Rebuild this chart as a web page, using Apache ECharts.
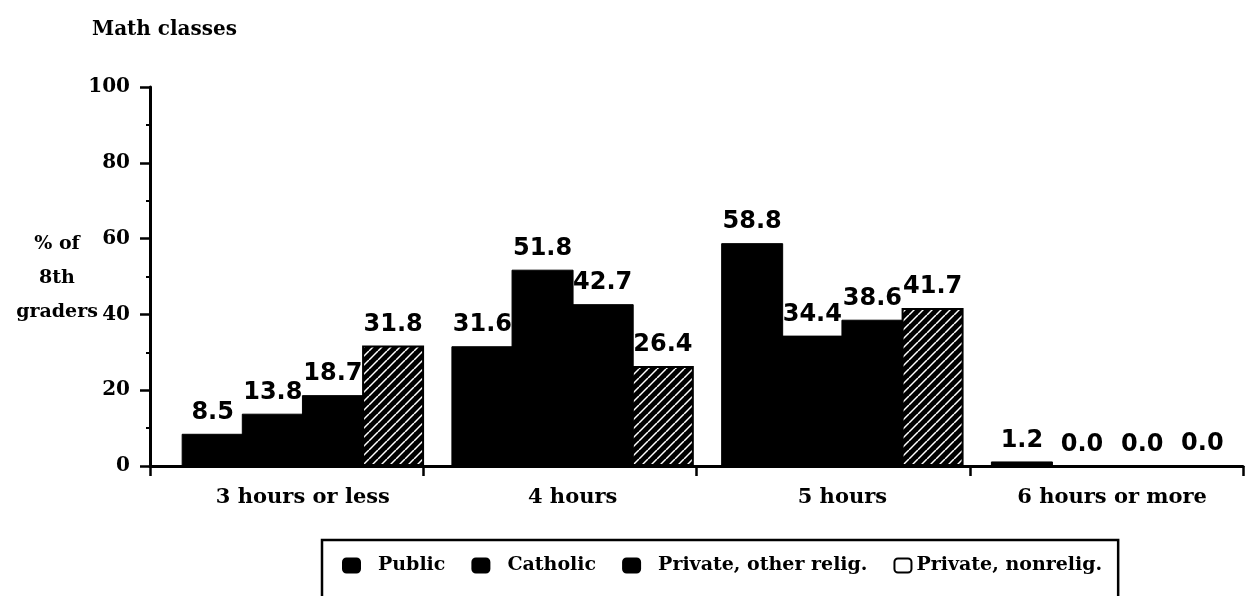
<!DOCTYPE html>
<html>
<head>
<meta charset="utf-8">
<script src="https://cdn.jsdelivr.net/npm/echarts@6/dist/echarts.min.js"></script>
<style>
  html, body { margin: 0; padding: 0; background: #fff; }
  #chart { width: 1247px; height: 596px; }
</style>
</head>
<body>
<div id="chart"></div>
<script>
// ---- data ----
const categories = ['3 hours or less', '4 hours', '5 hours', '6 hours or more'];
const seriesNames = ['Public', 'Catholic', 'Private, other relig.', 'Private, nonrelig.'];
const publicVals = [8.5, 31.6, 58.8, 1.2];
const catholicVals = [13.8, 51.8, 34.4, 0.0];
const otherReligVals = [18.7, 42.7, 38.6, 0.0];
const nonReligVals = [31.8, 26.4, 41.7, 0.0];
const yMin = 0, yMax = 100, yInterval = 20;

// ---- hatch pattern ----
function makeHatch() {
  const s = 9;
  const c = document.createElement('canvas');
  c.width = s; c.height = s;
  const ctx = c.getContext('2d');
  ctx.fillStyle = '#000';
  ctx.fillRect(0, 0, s, s);
  ctx.strokeStyle = '#fff';
  ctx.lineWidth = 1.5;
  for (let k = -1; k <= 1; k++) {
    ctx.beginPath();
    ctx.moveTo(k * s, s);
    ctx.lineTo(k * s + s, 0);
    ctx.stroke();
  }
  return c;
}
const hatch = { image: makeHatch(), repeat: 'repeat' };

const serif = 'DejaVu Serif';
const labelStyle = {
  show: true,
  position: 'top',
  distance: 9,
  fontFamily: 'DejaVu Sans',
  fontWeight: 'bold',
  fontSize: 24,
  color: '#000',
  formatter: p => Number(p.value).toFixed(1)
};

function bar(name, data, itemStyle) {
  return {
    name, type: 'bar', data,
    xAxisIndex: 1, yAxisIndex: 1,
    barWidth: 62, barGap: '-3%',
    itemStyle,
    label: labelStyle,
    emphasis: { disabled: true }
  };
}

const solid = { color: '#000', borderColor: '#000', borderWidth: 1 };

const chart = echarts.init(document.getElementById('chart'), null, { renderer: 'canvas' });
chart.setOption({
  animation: false,
  backgroundColor: '#fff',
  title: [
    {
      text: 'Math classes', left: 87, top: 15,
      textStyle: { fontFamily: serif, fontWeight: 'bold', fontSize: 20, color: '#000' }
    },
    {
      text: '% of\n8th\ngraders', left: 52, top: 222, textAlign: 'center',
      textStyle: { fontFamily: serif, fontWeight: 'bold', fontSize: 19, color: '#000', lineHeight: 34 }
    }
  ],
  legend: {
    data: [
      { name: seriesNames[0] },
      { name: seriesNames[1] },
      { name: seriesNames[2] },
      {
        name: seriesNames[3],
        itemStyle: { color: '#fff', borderColor: '#000', borderWidth: 2 },
        textStyle: { padding: [0, 0, 0, 0] }
      }
    ],
    left: 322, top: 540,
    orient: 'horizontal',
    padding: [16, 16, 40, 20],
    borderColor: '#000', borderWidth: 2.5,
    itemGap: 26, itemWidth: 17, itemHeight: 14,
    selectedMode: false,
    textStyle: { fontFamily: serif, fontWeight: 'bold', fontSize: 19, color: '#000', padding: [0, 0, 0, 13] }
  },
  grid: [
    { left: 150, top: 87, width: 1093, height: 379 },
    { left: 168, top: 87, width: 1093, height: 379 }
  ],
  xAxis: [
    {
      type: 'category', gridIndex: 0, data: categories, boundaryGap: true,
      axisLine: { lineStyle: { color: '#000', width: 3 } },
      axisTick: { show: true, length: 10, lineStyle: { color: '#000', width: 2.5 } },
      axisLabel: { show: false },
      splitLine: { show: false }
    },
    {
      type: 'category', gridIndex: 1, data: categories, boundaryGap: true,
      axisLine: { show: false },
      axisTick: { show: false },
      axisLabel: { show: true, margin: 21, fontFamily: serif, fontWeight: 'bold', fontSize: 21, color: '#000' },
      splitLine: { show: false }
    }
  ],
  yAxis: [
    {
      type: 'value', gridIndex: 0, min: yMin, max: yMax, interval: yInterval,
      axisLine: { show: true, lineStyle: { color: '#000', width: 3 } },
      axisTick: { show: true, length: 10, lineStyle: { color: '#000', width: 2.5 } },
      minorTick: { show: true, splitNumber: 2, length: 4, lineStyle: { color: '#000', width: 2 } },
      axisLabel: { margin: 20, fontFamily: serif, fontWeight: 'bold', fontSize: 20, color: '#000' },
      splitLine: { show: false }
    },
    {
      type: 'value', gridIndex: 1, min: yMin, max: yMax, interval: yInterval, show: false,
      splitLine: { show: false }
    }
  ],
  series: [
    bar(seriesNames[0], publicVals, solid),
    bar(seriesNames[1], catholicVals, solid),
    bar(seriesNames[2], otherReligVals, solid),
    bar(seriesNames[3], nonReligVals, { color: hatch, borderColor: '#000', borderWidth: 2 })
  ]
});
</script>
</body>
</html>
